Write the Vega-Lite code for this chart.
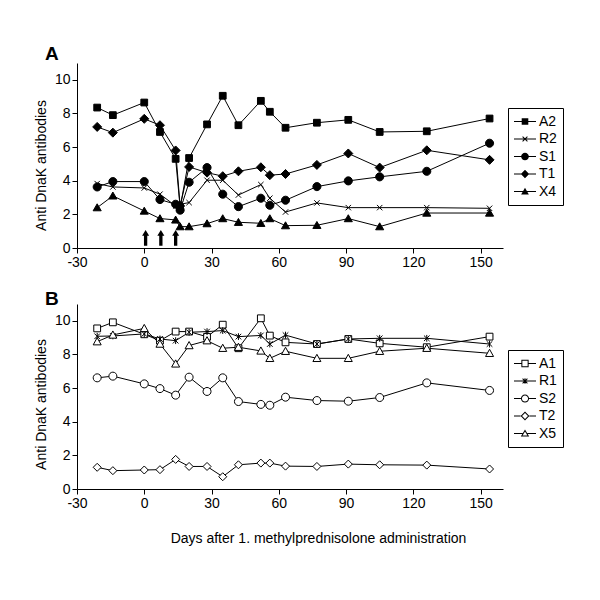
{
  "$schema": "https://vega.github.io/schema/vega-lite/v6.json",
  "background": "white",
  "padding": {"left": 34, "top": 45, "right": 5, "bottom": 5},
  "config": {
    "view": {"stroke": null},
    "font": "Liberation Sans",
    "axis": {"domainColor": "black", "tickColor": "black", "tickSize": 5, "labelColor": "black", "labelFont": "Liberation Sans", "labelFontSize": 14, "titleFont": "Liberation Sans", "titleFontSize": 14, "titleFontWeight": "normal", "titleColor": "black", "grid": false, "labelPadding": 2, "labelOverlap": false},
    "legend": {"labelFont": "Liberation Sans", "labelFontSize": 14, "labelColor": "black"}
  },
  "spacing": 21,
  "datasets": {
    "panelA": [
      {"series": "A2", "day": -21, "value": 8.35}, {"series": "A2", "day": -14, "value": 7.9}, {"series": "A2", "day": 0, "value": 8.65}, {"series": "A2", "day": 7, "value": 6.9}, {"series": "A2", "day": 14, "value": 5.3}, {"series": "A2", "day": 16, "value": 2.4}, {"series": "A2", "day": 20, "value": 5.35}, {"series": "A2", "day": 28, "value": 7.35}, {"series": "A2", "day": 35, "value": 9.05}, {"series": "A2", "day": 42, "value": 7.3}, {"series": "A2", "day": 52, "value": 8.75}, {"series": "A2", "day": 56, "value": 8.1}, {"series": "A2", "day": 63, "value": 7.15}, {"series": "A2", "day": 77, "value": 7.45}, {"series": "A2", "day": 91, "value": 7.62}, {"series": "A2", "day": 105, "value": 6.9}, {"series": "A2", "day": 126, "value": 6.94}, {"series": "A2", "day": 154, "value": 7.7},
      {"series": "R2", "day": -21, "value": 3.83}, {"series": "R2", "day": -14, "value": 3.63}, {"series": "R2", "day": 0, "value": 3.57}, {"series": "R2", "day": 7, "value": 3.2}, {"series": "R2", "day": 14, "value": 2.5}, {"series": "R2", "day": 16, "value": 2.6}, {"series": "R2", "day": 20, "value": 2.7}, {"series": "R2", "day": 28, "value": 4.03}, {"series": "R2", "day": 35, "value": 4.03}, {"series": "R2", "day": 42, "value": 3.15}, {"series": "R2", "day": 52, "value": 3.77}, {"series": "R2", "day": 56, "value": 2.96}, {"series": "R2", "day": 63, "value": 2.14}, {"series": "R2", "day": 77, "value": 2.68}, {"series": "R2", "day": 91, "value": 2.4}, {"series": "R2", "day": 105, "value": 2.4}, {"series": "R2", "day": 126, "value": 2.4}, {"series": "R2", "day": 154, "value": 2.36},
      {"series": "S1", "day": -21, "value": 3.63}, {"series": "S1", "day": -14, "value": 3.95}, {"series": "S1", "day": 0, "value": 3.95}, {"series": "S1", "day": 7, "value": 2.88}, {"series": "S1", "day": 14, "value": 2.6}, {"series": "S1", "day": 16, "value": 2.25}, {"series": "S1", "day": 20, "value": 3.91}, {"series": "S1", "day": 28, "value": 4.78}, {"series": "S1", "day": 35, "value": 3.2}, {"series": "S1", "day": 42, "value": 2.46}, {"series": "S1", "day": 52, "value": 2.96}, {"series": "S1", "day": 56, "value": 2.54}, {"series": "S1", "day": 63, "value": 2.84}, {"series": "S1", "day": 77, "value": 3.65}, {"series": "S1", "day": 91, "value": 3.99}, {"series": "S1", "day": 105, "value": 4.23}, {"series": "S1", "day": 126, "value": 4.56}, {"series": "S1", "day": 154, "value": 6.23},
      {"series": "T1", "day": -21, "value": 7.2}, {"series": "T1", "day": -14, "value": 6.86}, {"series": "T1", "day": 0, "value": 7.68}, {"series": "T1", "day": 7, "value": 7.3}, {"series": "T1", "day": 14, "value": 5.8}, {"series": "T1", "day": 16, "value": 2.5}, {"series": "T1", "day": 20, "value": 4.82}, {"series": "T1", "day": 28, "value": 4.48}, {"series": "T1", "day": 35, "value": 4.27}, {"series": "T1", "day": 42, "value": 4.56}, {"series": "T1", "day": 52, "value": 4.8}, {"series": "T1", "day": 56, "value": 4.33}, {"series": "T1", "day": 63, "value": 4.4}, {"series": "T1", "day": 77, "value": 4.94}, {"series": "T1", "day": 91, "value": 5.62}, {"series": "T1", "day": 105, "value": 4.78}, {"series": "T1", "day": 126, "value": 5.81}, {"series": "T1", "day": 154, "value": 5.24},
      {"series": "X4", "day": -21, "value": 2.4}, {"series": "X4", "day": -14, "value": 3.1}, {"series": "X4", "day": 0, "value": 2.2}, {"series": "X4", "day": 7, "value": 1.75}, {"series": "X4", "day": 14, "value": 1.67}, {"series": "X4", "day": 16, "value": 1.27}, {"series": "X4", "day": 20, "value": 1.27}, {"series": "X4", "day": 28, "value": 1.45}, {"series": "X4", "day": 35, "value": 1.75}, {"series": "X4", "day": 42, "value": 1.53}, {"series": "X4", "day": 52, "value": 1.47}, {"series": "X4", "day": 56, "value": 1.75}, {"series": "X4", "day": 63, "value": 1.33}, {"series": "X4", "day": 77, "value": 1.35}, {"series": "X4", "day": 91, "value": 1.75}, {"series": "X4", "day": 105, "value": 1.27}, {"series": "X4", "day": 126, "value": 2.08}, {"series": "X4", "day": 154, "value": 2.08}
    ],
    "panelB": [
      {"series": "A1", "day": -21, "value": 9.55}, {"series": "A1", "day": -14, "value": 9.91}, {"series": "A1", "day": 0, "value": 9.2}, {"series": "A1", "day": 7, "value": 8.82}, {"series": "A1", "day": 14, "value": 9.36}, {"series": "A1", "day": 20, "value": 9.36}, {"series": "A1", "day": 28, "value": 9.05}, {"series": "A1", "day": 35, "value": 9.77}, {"series": "A1", "day": 42, "value": 8.37}, {"series": "A1", "day": 52, "value": 10.15}, {"series": "A1", "day": 56, "value": 9.12}, {"series": "A1", "day": 63, "value": 8.72}, {"series": "A1", "day": 77, "value": 8.62}, {"series": "A1", "day": 91, "value": 8.92}, {"series": "A1", "day": 105, "value": 8.66}, {"series": "A1", "day": 126, "value": 8.43}, {"series": "A1", "day": 154, "value": 9.06},
      {"series": "R1", "day": -21, "value": 9.08}, {"series": "R1", "day": -14, "value": 9.1}, {"series": "R1", "day": 0, "value": 9.22}, {"series": "R1", "day": 7, "value": 8.92}, {"series": "R1", "day": 14, "value": 8.82}, {"series": "R1", "day": 20, "value": 9.32}, {"series": "R1", "day": 28, "value": 9.36}, {"series": "R1", "day": 35, "value": 9.42}, {"series": "R1", "day": 42, "value": 9.06}, {"series": "R1", "day": 52, "value": 9.13}, {"series": "R1", "day": 56, "value": 8.62}, {"series": "R1", "day": 63, "value": 9.15}, {"series": "R1", "day": 77, "value": 8.62}, {"series": "R1", "day": 91, "value": 8.92}, {"series": "R1", "day": 105, "value": 8.96}, {"series": "R1", "day": 126, "value": 8.96}, {"series": "R1", "day": 154, "value": 8.62},
      {"series": "S2", "day": -21, "value": 6.61}, {"series": "S2", "day": -14, "value": 6.71}, {"series": "S2", "day": 0, "value": 6.25}, {"series": "S2", "day": 7, "value": 5.97}, {"series": "S2", "day": 14, "value": 5.58}, {"series": "S2", "day": 20, "value": 6.65}, {"series": "S2", "day": 28, "value": 5.8}, {"series": "S2", "day": 35, "value": 6.61}, {"series": "S2", "day": 42, "value": 5.2}, {"series": "S2", "day": 52, "value": 5.03}, {"series": "S2", "day": 56, "value": 4.98}, {"series": "S2", "day": 63, "value": 5.46}, {"series": "S2", "day": 77, "value": 5.26}, {"series": "S2", "day": 91, "value": 5.22}, {"series": "S2", "day": 105, "value": 5.44}, {"series": "S2", "day": 126, "value": 6.31}, {"series": "S2", "day": 154, "value": 5.86},
      {"series": "T2", "day": -21, "value": 1.29}, {"series": "T2", "day": -14, "value": 1.09}, {"series": "T2", "day": 0, "value": 1.13}, {"series": "T2", "day": 7, "value": 1.15}, {"series": "T2", "day": 14, "value": 1.76}, {"series": "T2", "day": 20, "value": 1.34}, {"series": "T2", "day": 28, "value": 1.34}, {"series": "T2", "day": 35, "value": 0.73}, {"series": "T2", "day": 42, "value": 1.44}, {"series": "T2", "day": 52, "value": 1.54}, {"series": "T2", "day": 56, "value": 1.54}, {"series": "T2", "day": 63, "value": 1.36}, {"series": "T2", "day": 77, "value": 1.34}, {"series": "T2", "day": 91, "value": 1.48}, {"series": "T2", "day": 105, "value": 1.44}, {"series": "T2", "day": 126, "value": 1.42}, {"series": "T2", "day": 154, "value": 1.19},
      {"series": "X5", "day": -21, "value": 8.76}, {"series": "X5", "day": -14, "value": 9.16}, {"series": "X5", "day": 0, "value": 9.55}, {"series": "X5", "day": 7, "value": 8.62}, {"series": "X5", "day": 14, "value": 7.44}, {"series": "X5", "day": 20, "value": 8.53}, {"series": "X5", "day": 28, "value": 8.82}, {"series": "X5", "day": 35, "value": 8.37}, {"series": "X5", "day": 42, "value": 8.43}, {"series": "X5", "day": 52, "value": 8.21}, {"series": "X5", "day": 56, "value": 7.77}, {"series": "X5", "day": 63, "value": 8.19}, {"series": "X5", "day": 77, "value": 7.77}, {"series": "X5", "day": 91, "value": 7.77}, {"series": "X5", "day": 105, "value": 8.19}, {"series": "X5", "day": 126, "value": 8.37}, {"series": "X5", "day": 154, "value": 8.07}
    ],
    "arrows": [{"day": 0.6, "value": 0.6}, {"day": 7.4, "value": 0.6}, {"day": 14, "value": 0.6}]
  },
  "vconcat": [
    {
      "width": 426,
      "height": 185,
      "title": {"text": "A", "anchor": "start", "frame": "group", "dx": -32, "offset": -1, "fontSize": 19, "fontWeight": "bold", "font": "Liberation Sans", "color": "black"},
      "resolve": {"scale": {"shape": "independent"}, "legend": {"shape": "independent"}},
      "layer": [
        {
          "data": {"name": "panelA"},
          "mark": {"type": "line", "color": "black", "strokeWidth": 1},
          "encoding": {
            "x": {"field": "day", "type": "quantitative", "scale": {"domain": [-30, 160], "nice": false}, "axis": {"values": [-30, 0, 30, 60, 90, 120, 150], "tickCount": 12, "title": null, "labelFlush": false, "labelOverlap": false, "labelExpr": "replace(datum.label, '\u2212', '-')"}},
            "y": {"field": "value", "type": "quantitative", "scale": {"domain": [0, 11], "nice": false}, "axis": {"values": [0, 2, 4, 6, 8, 10], "tickCount": 8, "labelOverlap": false, "title": "Anti DnaK antibodies", "titlePadding": 6, "titleY": 102}},
            "detail": {"field": "series"}
          }
        },
        {
          "data": {"name": "panelA"},
          "mark": {"type": "point", "filled": true, "fill": "black", "stroke": "black", "strokeWidth": 1, "size": 81, "opacity": 1},
          "encoding": {
            "x": {"field": "day", "type": "quantitative"},
            "y": {"field": "value", "type": "quantitative"},
            "shape": {"field": "series", "type": "nominal", "legend": null, "scale": {"domain": ["A2", "R2", "S1", "T1", "X4"], "range": ["M -0.75 -0.75 L 0.75 -0.75 L 0.75 0.75 L -0.75 0.75 Z", "M -0.6 -0.6 L 0.6 0.6 M -0.6 0.6 L 0.6 -0.6", "M 0.9 0 A 0.9 0.9 0 1 1 -0.9 0 A 0.9 0.9 0 1 1 0.9 0 Z", "M 0 -1 L 1 0 L 0 1 L -1 0 Z", "M 0 -0.85 L 0.9 0.7 L -0.9 0.7 Z"]}}
          }
        },
        {
          "data": {"name": "panelA"},
          "transform": [{"filter": "datum.day > 9999"}],
          "mark": {"type": "point", "filled": true, "fill": "black", "strokeWidth": 0, "size": 484, "opacity": 1},
          "encoding": {
            "x": {"field": "day", "type": "quantitative"},
            "y": {"field": "value", "type": "quantitative"},
            "shape": {"field": "series", "type": "nominal", "scale": {"domain": ["A2", "R2", "S1", "T1", "X4"], "range": [
              "M -1 -0.045 L 1 -0.045 L 1 0.045 L -1 0.045 Z M -0.3 -0.3 L 0.3 -0.3 L 0.3 0.3 L -0.3 0.3 Z",
              "M -1 -0.045 L 1 -0.045 L 1 0.045 L -1 0.045 Z M -0.188 -0.252 L 0.252 0.188 L 0.188 0.252 L -0.252 -0.188 Z M -0.252 0.188 L 0.188 -0.252 L 0.252 -0.188 L -0.188 0.252 Z",
              "M -1 -0.045 L 1 -0.045 L 1 0.045 L -1 0.045 Z M 0.35 0 A 0.35 0.35 0 1 1 -0.35 0 A 0.35 0.35 0 1 1 0.35 0 Z",
              "M -1 -0.045 L 1 -0.045 L 1 0.045 L -1 0.045 Z M 0 -0.38 L 0.38 0 L 0 0.38 L -0.38 0 Z",
              "M -1 -0.045 L 1 -0.045 L 1 0.045 L -1 0.045 Z M 0 -0.33 L 0.35 0.27 L -0.35 0.27 Z"]},
              "legend": {"title": null, "orient": "none", "legendX": 431, "legendY": 45, "strokeColor": "black", "fillColor": "white", "padding": 6, "symbolSize": 484, "labelOffset": 3, "clipHeight": 15, "rowPadding": 2.5, "symbolStrokeWidth": 0, "symbolFillColor": "black", "symbolStrokeColor": "transparent", "symbolOpacity": 1}}
          }
        },
        {
          "data": {"name": "arrows"},
          "mark": {"type": "point", "filled": true, "fill": "black", "strokeWidth": 0, "size": 246, "opacity": 1, "shape": "M -0.21 1 L -0.21 -0.27 L -0.45 -0.27 L 0 -1 L 0.45 -0.27 L 0.21 -0.27 L 0.21 1 Z"},
          "encoding": {
            "x": {"field": "day", "type": "quantitative"},
            "y": {"field": "value", "type": "quantitative"}
          }
        }
      ]
    },
    {
      "width": 426,
      "height": 185,
      "title": {"text": "B", "anchor": "start", "frame": "group", "dx": -32, "offset": -5, "fontSize": 19, "fontWeight": "bold", "font": "Liberation Sans", "color": "black"},
      "resolve": {"scale": {"shape": "independent"}, "legend": {"shape": "independent"}},
      "layer": [
        {
          "data": {"name": "panelB"},
          "mark": {"type": "line", "color": "black", "strokeWidth": 1},
          "encoding": {
            "x": {"field": "day", "type": "quantitative", "scale": {"domain": [-30, 160], "nice": false}, "axis": {"values": [-30, 0, 30, 60, 90, 120, 150], "tickCount": 12, "title": "Days after 1. methylprednisolone administration", "titlePadding": 21, "titleX": 241, "labelFlush": false, "labelOverlap": false, "labelExpr": "replace(datum.label, '\u2212', '-')"}},
            "y": {"field": "value", "type": "quantitative", "scale": {"domain": [0, 11], "nice": false}, "axis": {"values": [0, 2, 4, 6, 8, 10], "tickCount": 8, "labelOverlap": false, "title": "Anti DnaK antibodies", "titlePadding": 6, "titleY": 100}},
            "detail": {"field": "series"}
          }
        },
        {
          "data": {"name": "panelB"},
          "mark": {"type": "point", "filled": true, "fill": "white", "stroke": "black", "strokeWidth": 1, "size": 64, "opacity": 1},
          "encoding": {
            "x": {"field": "day", "type": "quantitative"},
            "y": {"field": "value", "type": "quantitative"},
            "shape": {"field": "series", "type": "nominal", "legend": null, "scale": {"domain": ["A1", "R1", "S2", "T2", "X5"], "range": ["M -0.85 -0.85 L 0.85 -0.85 L 0.85 0.85 L -0.85 0.85 Z", "M -0.7 -0.7 L 0.7 0.7 M -0.7 0.7 L 0.7 -0.7 M 0 -0.85 L 0 0.85", "M 1 0 A 1 1 0 1 1 -1 0 A 1 1 0 1 1 1 0 Z", "M 0 -1 L 1 0 L 0 1 L -1 0 Z", "M 0 -1 L 1 0.8 L -1 0.8 Z"]}}
          }
        },
        {
          "data": {"name": "panelB"},
          "transform": [{"filter": "datum.day > 9999"}],
          "mark": {"type": "point", "filled": true, "fill": "black", "strokeWidth": 0, "size": 484, "opacity": 1},
          "encoding": {
            "x": {"field": "day", "type": "quantitative"},
            "y": {"field": "value", "type": "quantitative"},
            "shape": {"field": "series", "type": "nominal", "scale": {"domain": ["A1", "R1", "S2", "T2", "X5"], "range": [
              "M -1 -0.045 L -0.33 -0.045 L -0.33 0.045 L -1 0.045 Z M 0.33 -0.045 L 1 -0.045 L 1 0.045 L 0.33 0.045 Z M -0.33 -0.33 L 0.33 -0.33 L 0.33 0.33 L -0.33 0.33 Z M -0.24 -0.24 L -0.24 0.24 L 0.24 0.24 L 0.24 -0.24 Z",
              "M -1 -0.045 L 1 -0.045 L 1 0.045 L -1 0.045 Z M -0.188 -0.252 L 0.252 0.188 L 0.188 0.252 L -0.252 -0.188 Z M -0.252 0.188 L 0.188 -0.252 L 0.252 -0.188 L -0.188 0.252 Z M -0.045 -0.25 L 0.045 -0.25 L 0.045 0.25 L -0.045 0.25 Z",
              "M -1 -0.045 L -0.37 -0.045 L -0.37 0.045 L -1 0.045 Z M 0.37 -0.045 L 1 -0.045 L 1 0.045 L 0.37 0.045 Z M 0.37 0 A 0.37 0.37 0 1 1 -0.37 0 A 0.37 0.37 0 1 1 0.37 0 Z M 0.28 0 A 0.28 0.28 0 1 0 -0.28 0 A 0.28 0.28 0 1 0 0.28 0 Z",
              "M -1 -0.045 L -0.4 -0.045 L -0.4 0.045 L -1 0.045 Z M 0.4 -0.045 L 1 -0.045 L 1 0.045 L 0.4 0.045 Z M 0 -0.4 L 0.4 0 L 0 0.4 L -0.4 0 Z M 0 -0.27 L -0.27 0 L 0 0.27 L 0.27 0 Z",
              "M -1 -0.045 L -0.214 -0.045 L -0.214 0.045 L -1 0.045 Z M 0.214 -0.045 L 1 -0.045 L 1 0.045 L 0.214 0.045 Z M 0 -0.36 L 0.38 0.28 L -0.38 0.28 Z M 0 -0.183 L -0.2215 0.19 L 0.2215 0.19 Z"]},
              "legend": {"title": null, "orient": "none", "legendX": 431, "legendY": 46, "strokeColor": "black", "fillColor": "white", "padding": 6, "symbolSize": 484, "labelOffset": 3, "clipHeight": 15, "rowPadding": 2.5, "symbolStrokeWidth": 0, "symbolFillColor": "black", "symbolStrokeColor": "transparent", "symbolOpacity": 1}}
          }
        }
      ]
    }
  ]
}
